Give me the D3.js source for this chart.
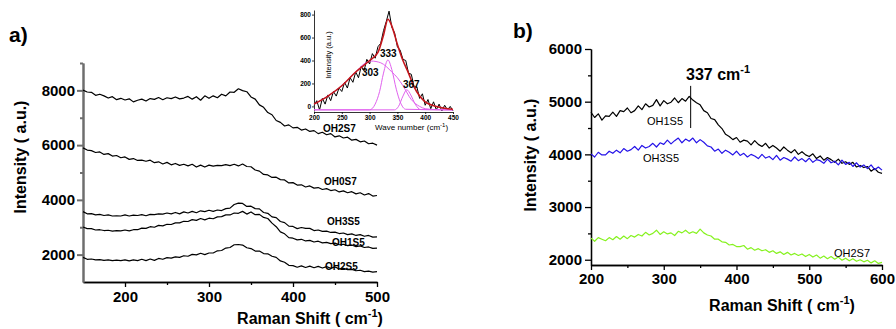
<!DOCTYPE html>
<html>
<head>
<meta charset="utf-8">
<script src="https://cdn.jsdelivr.net/npm/d3@7"></script>
<style>
  body { margin: 0; background: #fff; }
  svg { display: block; font-family: "Liberation Sans", Arial, sans-serif; }
  .axis path, .axis line { stroke: #000; stroke-width: 1.3; }
  .axis text { font-size: 15px; font-weight: bold; fill: #000; }
  .gray path, .gray line { stroke: #6e6e6e; stroke-width: 2; }
  .inset path, .inset line { stroke: #000; stroke-width: 0.8; }
  .inset text { font-size: 6.5px; font-weight: bold; }
  .title { font-size: 16px; font-weight: bold; }
</style>
</head>
<body>
<svg width="896" height="329"></svg>
<script>
// ---- data, panel a (Raman shift 150..500, step 5) ----
var shiftA = d3.range(150, 501, 5);
var oh2s7A = [8010,7940,7930,7820,7860,7800,7720,7770,7660,7710,
  7650,7690,7580,7640,7680,7610,7700,7670,7740,7660,
  7730,7700,7760,7690,7720,7780,7680,7770,7640,7800,
  7710,7800,7730,7860,7800,7940,7930,8060,7990,7950,
  7760,7680,7470,7380,7190,7110,6900,6830,6700,6740,
  6630,6650,6550,6590,6500,6530,6420,6470,6380,6420,
  6300,6340,6260,6290,6180,6210,6120,6150,6050,6070,6000];
var oh0s7A = [5900,5820,5800,5730,5750,5660,5690,5600,5620,5540,
  5570,5480,5510,5440,5450,5410,5450,5360,5390,5310,
  5370,5280,5330,5260,5300,5240,5300,5200,5270,5200,
  5270,5230,5260,5250,5290,5250,5300,5240,5310,5220,
  5210,5090,5050,4930,4910,4820,4830,4740,4730,4620,
  4630,4540,4550,4470,4510,4430,4450,4380,4410,4340,
  4370,4290,4330,4260,4300,4220,4260,4180,4230,4140,4160];
var oh3s5A = [3570,3490,3500,3450,3470,3430,3450,3410,3420,3410,
  3450,3410,3440,3430,3460,3420,3470,3460,3490,3480,
  3520,3490,3540,3490,3560,3520,3580,3530,3600,3570,
  3620,3580,3630,3610,3680,3700,3830,3880,3870,3760,
  3770,3680,3670,3540,3510,3380,3350,3210,3170,3040,
  3030,2950,2990,2960,2960,2880,2900,2850,2860,2810,
  2820,2770,2790,2730,2760,2700,2730,2670,2700,2640,2650];
var oh1s5A = [3010,2950,2950,2900,2910,2880,2890,2860,2880,2870,
  2900,2870,2910,2910,2970,2960,3020,3000,3070,3050,
  3110,3100,3160,3160,3220,3210,3280,3250,3320,3270,
  3330,3310,3380,3390,3450,3450,3520,3510,3580,3480,
  3560,3460,3470,3360,3320,3150,3020,2830,2760,2620,
  2600,2540,2560,2500,2520,2460,2490,2430,2450,2400,
  2420,2360,2380,2330,2350,2290,2320,2260,2280,2230,2240];
var oh2s5A = [1900,1830,1840,1810,1820,1790,1810,1780,1800,1780,
  1810,1770,1810,1780,1830,1780,1840,1790,1860,1830,
  1890,1870,1920,1900,1960,1940,2010,1990,2050,2000,
  2060,2060,2140,2150,2240,2260,2360,2370,2350,2250,
  2220,2130,2130,2040,2030,1940,1900,1770,1720,1610,
  1600,1540,1590,1530,1580,1520,1570,1510,1560,1500,
  1550,1480,1500,1450,1460,1410,1430,1380,1400,1360,1380];
var namesA = ["OH2S7", "OH0S7", "OH3S5", "OH1S5", "OH2S5"];
var yTicksA = [2000, 4000, 6000, 8000];
var xTicksA = [200, 300, 400, 500];

// ---- data, inset (wave number 200..450, step 5) ----
var shiftIn = d3.range(200, 451, 5);
var measIn = [10,50,-30,70,20,100,50,130,90,160,
  130,210,160,250,210,300,250,350,310,410,
  370,460,420,520,550,660,740,830,690,640,
  520,490,410,400,290,280,170,170,70,110,
  10,60,-20,40,-30,20,-40,10,-30,0,-40];
var fitX = [200,225,250,275,300,315,325,333,340,350,360,370,380,390,400,420,450];
var fitY = [20,90,180,300,400,470,620,760,700,540,400,290,170,90,40,0,-25];
var p303X = [200,225,250,275,290,303,320,340,350,360,375,390,400,420,450];
var p303Y = [20,90,180,300,370,395,380,300,250,180,60,0,-20,-28,-30];
var p333X = [200,300,310,318,325,333,340,348,355,365,450];
var p333Y = [-30,-30,20,130,290,405,320,150,40,-25,-30];
var p367X = [200,345,352,360,367,374,382,392,450];
var p367Y = [-30,-30,0,90,145,100,20,-28,-30];
var peakNames = ["303", "333", "367"];

// ---- data, panel b (Raman shift 200..600, step 5) ----
var shiftB = d3.range(200, 601, 5);
var oh1s5B = [4800,4700,4770,4650,4730,4720,4800,4720,4830,4810,
  4880,4790,4830,4920,4850,4960,4900,4930,5040,4920,
  5020,4960,4990,5070,4980,5060,5010,5100,5030,4980,
  4940,4830,4790,4680,4660,4560,4490,4380,4340,4280,
  4320,4230,4270,4250,4180,4260,4190,4150,4210,4120,
  4170,4120,4060,4140,4080,4030,4090,4000,4050,3990,
  3960,4010,3920,3970,3890,3940,3900,3850,3910,3830,
  3860,3810,3850,3760,3790,3750,3770,3680,3730,3660,3640];
var oh3s5B = [4010,3950,4040,3990,3990,4060,4020,4080,4030,4110,
  4060,4090,4150,4080,4170,4120,4150,4210,4140,4220,
  4190,4270,4200,4260,4310,4220,4290,4250,4310,4220,
  4280,4230,4160,4140,4060,4100,4020,4080,4040,3990,
  4060,3980,4020,3950,4000,3970,3920,4000,3930,3960,
  3900,3980,3890,3940,3910,3870,3950,3880,3920,3860,
  3930,3850,3900,3880,3830,3910,3840,3870,3800,3890,
  3810,3850,3770,3840,3760,3800,3730,3800,3710,3760,3700];
var oh2s7B = [2410,2350,2420,2390,2360,2420,2380,2440,2390,2450,
  2400,2460,2430,2480,2450,2520,2470,2500,2560,2480,
  2530,2490,2510,2460,2540,2510,2560,2500,2530,2500,
  2580,2510,2470,2450,2390,2390,2340,2330,2280,2290,
  2250,2250,2270,2200,2230,2180,2210,2170,2190,2140,
  2170,2120,2150,2100,2140,2090,2120,2080,2110,2060,
  2100,2050,2090,2030,2070,2020,2060,2010,2050,1990,
  2030,1980,2020,1970,2000,1960,1990,1940,1980,1930,1950];
var namesB = ["OH1S5", "OH3S5", "OH2S7"];
var colorsB = ["#000000", "#2412e8", "#86f21f"];
var yTicksB = [2000, 3000, 4000, 5000, 6000];
var xTicksB = [200, 300, 400, 500, 600];
var peakB = 337;

var svg = d3.select("svg");
var fmt = d3.format("d");

// scales
var xA = d3.scaleLinear().domain([150, 500]).range([83, 377]);
var yA = d3.scaleLinear().domain([1000, 9000]).range([282, 63]);
var xIn = d3.scaleLinear().domain([200, 450]).range([314, 453]);
var yIn = d3.scaleLinear().domain([-40, 840]).range([111, 10]);
var xB = d3.scaleLinear().domain([200, 600]).range([591, 882]);
var yB = d3.scaleLinear().domain([1900, 6000]).range([265, 49]);

function drawLine(xs, ys, x, y, color, width) {
  var line = d3.line()
    .x(function(d) { return x(d[0]); })
    .y(function(d) { return y(d[1]); });
  svg.append("path")
    .datum(d3.zip(xs, ys))
    .attr("fill", "none")
    .attr("stroke", color)
    .attr("stroke-width", width)
    .attr("stroke-linejoin", "round")
    .attr("d", line);
}

function smoothLine(xs, ys, x, y, color, width) {
  var line = d3.line()
    .curve(d3.curveMonotoneX)
    .x(function(d) { return x(d[0]); })
    .y(function(d) { return y(d[1]); });
  svg.append("path")
    .datum(d3.zip(xs, ys))
    .attr("fill", "none")
    .attr("stroke", color)
    .attr("stroke-width", width)
    .attr("d", line);
}

// axis title with superscript -1
function ramanTitle(cx, by) {
  var t = svg.append("text").attr("class", "title")
    .attr("x", cx).attr("y", by).attr("text-anchor", "middle");
  t.append("tspan").text("Raman Shift ( cm");
  t.append("tspan").attr("dy", -7).style("font-size", "11px").text("-1");
  t.append("tspan").attr("dy", 7).text(")");
}

function yTitle(cx, cy) {
  svg.append("text").attr("class", "title")
    .attr("transform", "translate(" + cx + "," + cy + ") rotate(-90)")
    .attr("text-anchor", "middle").attr("dy", "0.35em")
    .text("Intensity ( a.u.)");
}

// ================= panel a =================
svg.append("g").attr("class", "axis")
  .attr("transform", "translate(0," + yA.range()[0] + ")")
  .call(d3.axisBottom(xA).tickValues(xTicksA).tickFormat(fmt).tickSize(5).tickSizeOuter(0).tickPadding(4));
svg.append("g").attr("class", "axis")
  .attr("transform", "translate(0," + yA.range()[0] + ")")
  .call(d3.axisBottom(xA).tickValues([250, 350, 450]).tickSize(3).tickSizeOuter(0).tickFormat(""));
svg.append("g").attr("class", "axis gray")
  .attr("transform", "translate(" + xA.range()[0] + ",0)")
  .call(d3.axisLeft(yA).tickValues(yTicksA).tickFormat(fmt).tickSize(6).tickSizeOuter(0).tickPadding(2));
svg.append("g").attr("class", "axis gray")
  .attr("transform", "translate(" + xA.range()[0] + ",0)")
  .call(d3.axisLeft(yA).tickValues([3000, 5000, 7000, 9000]).tickSize(3).tickSizeOuter(0).tickFormat(""));

var seriesA = [oh2s7A, oh0s7A, oh3s5A, oh1s5A, oh2s5A];
seriesA.forEach(function(s) { drawLine(shiftA, s, xA, yA, "#000", 1.2); });

// labels next to curves (text at right end)
var labelPosA = [[323, 132], [324, 185], [327, 225], [332, 246], [325, 270]];
namesA.forEach(function(n, i) {
  svg.append("text").attr("x", labelPosA[i][0]).attr("y", labelPosA[i][1])
    .style("font-size", "10px").style("font-weight", "bold").text(n);
});

svg.append("text").attr("x", 9).attr("y", 42)
  .style("font-size", "21px").style("font-weight", "bold").text("a)");
yTitle(20, 157);
ramanTitle(310, 324);

// ---- inset ----
svg.append("rect").attr("x", xIn.range()[0] + 1).attr("y", 8).attr("width", 140).attr("height", 103).attr("fill", "#fff");
svg.append("g").attr("class", "axis inset")
  .attr("transform", "translate(0,112)")
  .call(d3.axisBottom(xIn).tickValues([200, 250, 300, 350, 400, 450]).tickFormat(fmt).tickSize(2).tickSizeOuter(0).tickPadding(1));
svg.append("g").attr("class", "axis inset")
  .attr("transform", "translate(" + xIn.range()[0] + ",0)")
  .call(d3.axisLeft(yIn).tickValues([0, 200, 400, 600, 800]).tickFormat(fmt).tickSize(2).tickSizeOuter(0).tickPadding(1));

drawLine(shiftIn, measIn, xIn, yIn, "#000", 1);
smoothLine(p303X, p303Y, xIn, yIn, "#e061ee", 1);
smoothLine(p333X, p333Y, xIn, yIn, "#e061ee", 1);
smoothLine(p367X, p367Y, xIn, yIn, "#e061ee", 1);
smoothLine(fitX, fitY, xIn, yIn, "#c4161c", 1.6);

var peakPos = [[362, 76], [380, 57], [403, 88]];
peakNames.forEach(function(p, i) {
  svg.append("text").attr("x", peakPos[i][0]).attr("y", peakPos[i][1])
    .style("font-size", "10px").style("font-weight", "bold").text(p);
});
svg.append("text")
  .attr("transform", "translate(328,55) rotate(-90)")
  .attr("text-anchor", "middle").attr("dy", "0.35em")
  .style("font-size", "7.5px").text("Intensity (a.u.)");
var wn = svg.append("text").attr("x", 375).attr("y", 130).style("font-size", "8px");
wn.append("tspan").text("Wave number (cm");
wn.append("tspan").attr("dy", -3).style("font-size", "6px").text("-1");
wn.append("tspan").attr("dy", 3).text(")");

// ================= panel b =================
svg.append("g").attr("class", "axis")
  .attr("transform", "translate(0," + yB.range()[0] + ")")
  .call(d3.axisBottom(xB).tickValues(xTicksB).tickFormat(fmt).tickSize(5).tickSizeOuter(0).tickPadding(3));
svg.append("g").attr("class", "axis")
  .attr("transform", "translate(0," + yB.range()[0] + ")")
  .call(d3.axisBottom(xB).tickValues([250, 350, 450, 550]).tickSize(3).tickSizeOuter(0).tickFormat(""));
svg.append("g").attr("class", "axis")
  .attr("transform", "translate(" + xB.range()[0] + ",0)")
  .call(d3.axisLeft(yB).tickValues(yTicksB).tickFormat(fmt).tickSize(6).tickSizeOuter(0).tickPadding(3));
svg.append("g").attr("class", "axis")
  .attr("transform", "translate(" + xB.range()[0] + ",0)")
  .call(d3.axisLeft(yB).tickValues([2500, 3500, 4500, 5500]).tickSize(3).tickSizeOuter(0).tickFormat(""));

drawLine(shiftB, oh1s5B, xB, yB, colorsB[0], 1.2);
drawLine(shiftB, oh3s5B, xB, yB, colorsB[1], 1.2);
drawLine(shiftB, oh2s7B, xB, yB, colorsB[2], 1.2);

// peak marker at 337 cm-1
svg.append("line")
  .attr("x1", xB(peakB)).attr("x2", xB(peakB))
  .attr("y1", yB(5300)).attr("y2", yB(4500))
  .attr("stroke", "#000").attr("stroke-width", 1);
var pk = svg.append("text").attr("x", 686).attr("y", 80)
  .style("font-size", "16px").style("font-weight", "bold");
pk.append("tspan").text(peakB + " cm");
pk.append("tspan").attr("dy", -7).style("font-size", "11px").text("-1");

var labelPosB = [[647, 125], [643, 162], [834, 257]];
namesB.forEach(function(n, i) {
  svg.append("text").attr("x", labelPosB[i][0]).attr("y", labelPosB[i][1])
    .style("font-size", "11px").text(n);
});

svg.append("text").attr("x", 513).attr("y", 38)
  .style("font-size", "21px").style("font-weight", "bold").text("b)");
yTitle(530, 155);
ramanTitle(782, 311);
</script>
</body>
</html>
